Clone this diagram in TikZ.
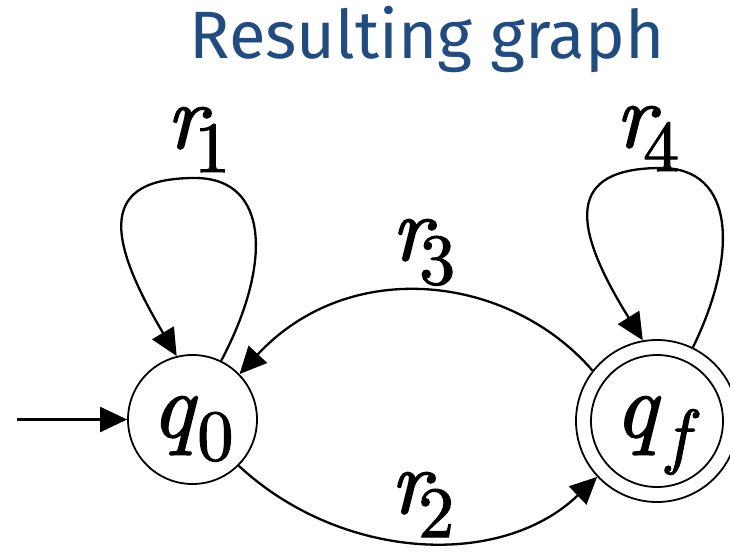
\documentclass[tikz,border=0pt]{standalone}
\usepackage{fontspec}
\newfontfamily\titlefont{Fira Sans}
\newfontfamily\lblfont{lmroman10-regular}[Extension=.otf, ItalicFont=lmroman10-italic, FakeBold=1.6]
\usetikzlibrary{arrows.meta}
\definecolor{titleblue}{RGB}{34,76,128}
\newcommand{\rsub}[1]{\textit{r}\kern-17pt\raisebox{-24pt}{\fontsize{72pt}{72pt}\selectfont #1}}
\newcommand{\qsub}[1]{\textit{q}\raisebox{-23pt}{\fontsize{72pt}{72pt}\selectfont #1}}
\begin{document}
\begin{tikzpicture}[x=1pt,y=-1pt,
  state/.style={circle, draw, line width=1.8pt, inner sep=0pt, font=\lblfont\fontsize{92pt}{92pt}\selectfont},
  edge/.style={-{Triangle[length=27pt,width=25pt]}, line width=2.3pt},
  lbl/.style={anchor=base west, inner sep=0pt, font=\lblfont\fontsize{92pt}{92pt}\selectfont},
  titlestyle/.style={font=\titlefont\fontsize{67pt}{67pt}\selectfont, text=titleblue, inner sep=0pt}]
\useasboundingbox (0,0) rectangle (730,551);
\node[titlestyle] (title) at (427,40) {Resulting graph};
\node[state, minimum size=129pt, text height=45pt, text depth=10pt] (q0) at (192.5,419.5) {\qsub{0}};
\node[state, minimum size=162pt, text height=42pt, text depth=10pt] (qf) at (657,421) {\qsub{\kern6pt\textit{f}}};
\draw[line width=1.8pt] (qf.center) circle[radius=66pt];
\coordinate (start) at (17,419.5);
\draw[edge] (start) -- (q0.west);
% loop r1
\draw[edge] (q0.64) .. controls (272,265) and (270,178) .. (195,178)
  .. controls (100,178) and (105,235) .. (q0.104);
% loop r4
\draw[edge] (qf.64) .. controls (738,255) and (736,168) .. (661,168)
  .. controls (566,168) and (571,225) .. (qf.100);
% r3
\draw[edge] (qf.142) .. controls (510,275) and (350,255) .. (q0.44);
% r2
\draw[edge] (q0.-45) .. controls (340,560) and (500,570) .. (qf.223);
\node[lbl] (l1) at (166,148) {\rsub{1}};
\node[lbl] (l3) at (391,260) {\rsub{3}};
\node[lbl] (l2) at (390,513) {\rsub{2}};
\node[lbl] (l4) at (615,147) {\rsub{4}};
\end{tikzpicture}
\end{document}
